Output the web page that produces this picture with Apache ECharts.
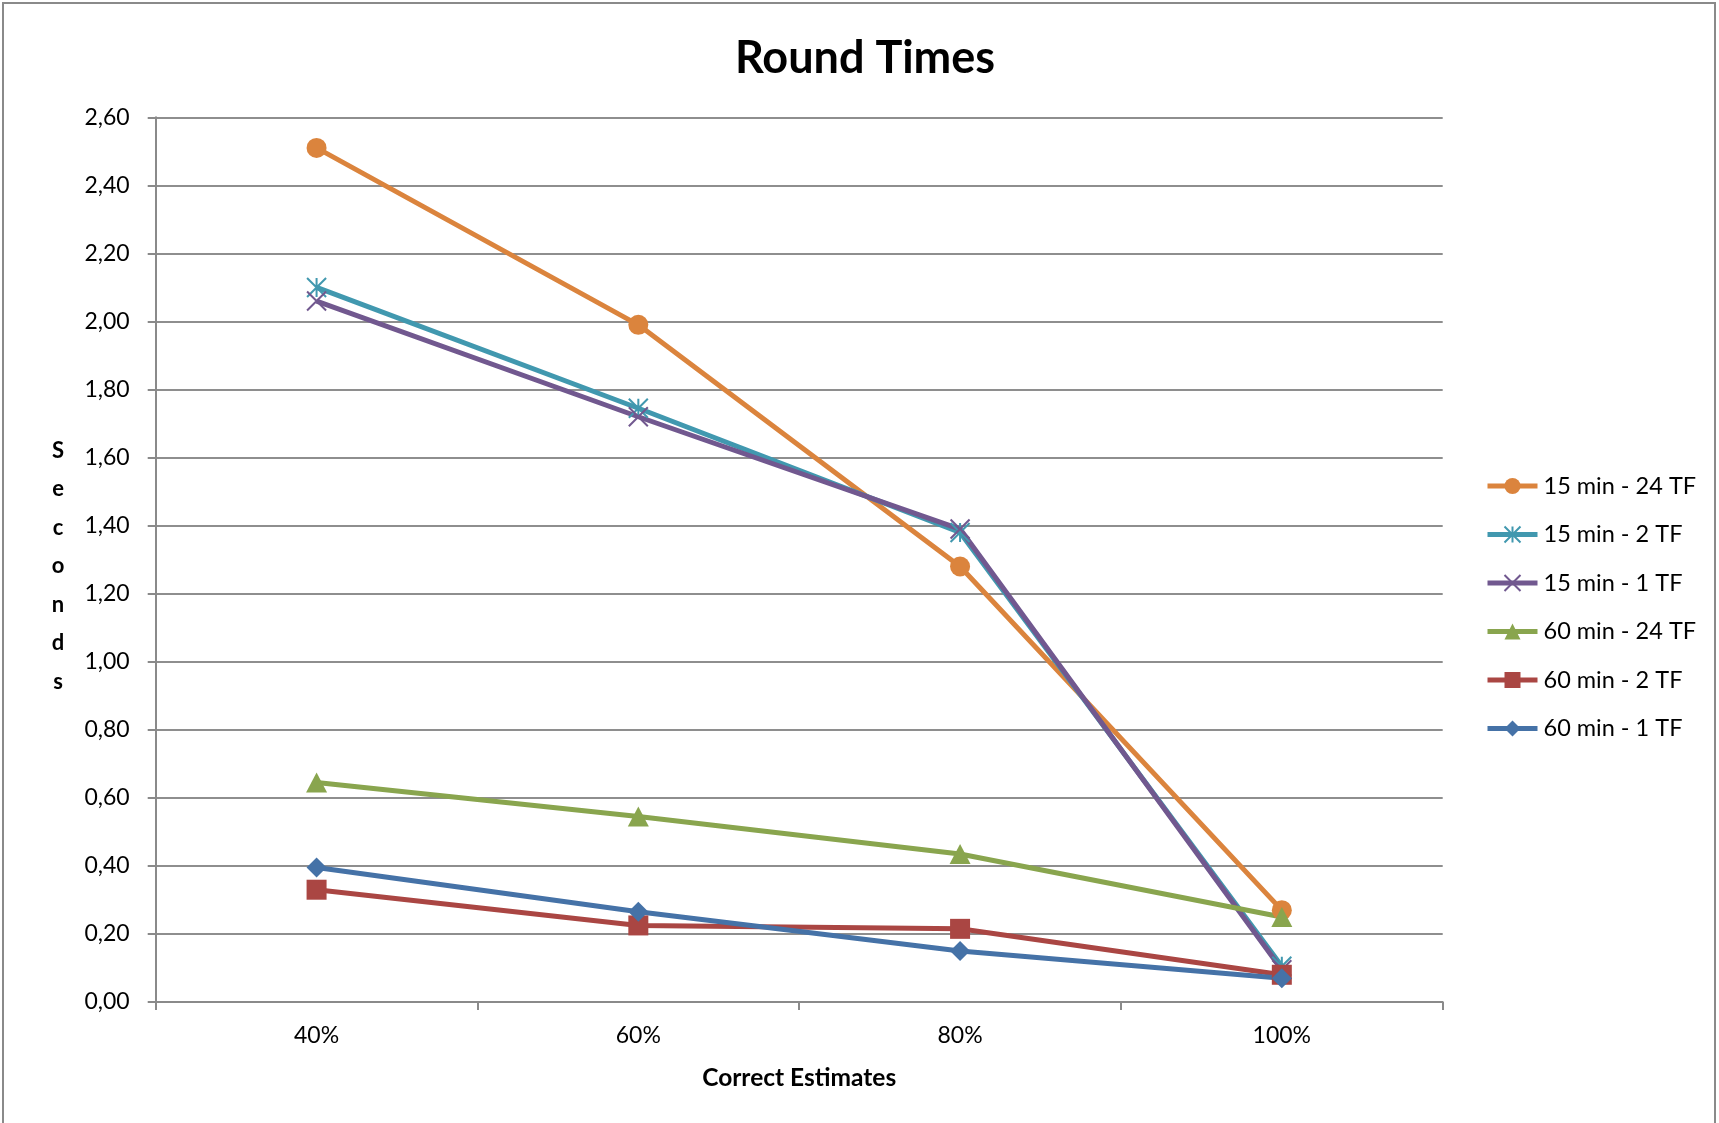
<!DOCTYPE html>
<html>
<head>
<meta charset="utf-8">
<script src="https://cdn.jsdelivr.net/npm/echarts@6/dist/echarts.min.js"></script>
<style>
html,body{margin:0;padding:0;background:#fff;}
#chart{width:1719px;height:1123px;}
</style>
</head>
<body>
<div id="chart"></div>
<script>
var categories = ['40%', '60%', '80%', '100%'];
var seriesNames = ['15 min - 24 TF', '15 min - 2 TF', '15 min - 1 TF', '60 min - 24 TF', '60 min - 2 TF', '60 min - 1 TF'];
var s15min24TF = [2.51, 1.99, 1.28, 0.27];
var s15min2TF = [2.10, 1.745, 1.38, 0.105];
var s15min1TF = [2.06, 1.72, 1.39, 0.095];
var s60min24TF = [0.645, 0.545, 0.435, 0.25];
var s60min2TF = [0.33, 0.225, 0.215, 0.08];
var s60min1TF = [0.395, 0.265, 0.15, 0.07];
var yMin = 0, yMax = 2.6, yInterval = 0.2;

var colors = ['#DB843D', '#4198AF', '#71588F', '#89A54E', '#AA4643', '#4572A7'];
var symbols = [
  'circle',
  'path://M5,0L5,10M0,0L10,10M10,0L0,10',
  'path://M0,0L10,10M10,0L0,10',
  'triangle',
  'rect',
  'diamond'
];
var dataSets = [s15min24TF, s15min2TF, s15min1TF, s60min24TF, s60min2TF, s60min1TF];
var FONT = 'Lato';

var series = dataSets.map(function (d, i) {
  var stroked = (i === 1 || i === 2);
  return {
    name: seriesNames[i],
    type: 'line',
    data: d,
    symbol: symbols[i],
    symbolSize: stroked ? 19 : (i === 3 ? [21, 20] : 20),
    lineStyle: { color: colors[i], width: 5 },
    itemStyle: stroked
      ? { color: colors[i], borderColor: colors[i], borderWidth: 2 }
      : { color: colors[i], borderWidth: 0 },
    emphasis: { disabled: true },
    animation: false
  };
});

var chart = echarts.init(document.getElementById('chart'), null, { renderer: 'canvas' });
chart.setOption({
  backgroundColor: '#ffffff',
  animation: false,
  textStyle: { fontFamily: FONT },
  title: {
    text: 'Round Times',
    left: 860,
    top: 31,
    textAlign: 'center',
    textStyle: { fontFamily: FONT, fontSize: 45, fontWeight: 'bold', color: '#000' }
  },
  graphic: [
    {
      type: 'rect',
      shape: { x: 3, y: 3, width: 1712, height: 1130 },
      style: { fill: 'none', stroke: '#8a8a8a', lineWidth: 2 },
      silent: true
    },
    {
      type: 'text',
      x: 58,
      y: 566,
      style: {
        text: 'S\ne\nc\no\nn\nd\ns',
        fontFamily: FONT,
        fontSize: 22,
        fontWeight: 'bold',
        lineHeight: 38.5,
        fill: '#000',
        align: 'center',
        verticalAlign: 'middle'
      },
      silent: true
    }
  ],
  legend: {
    orient: 'vertical',
    left: 1480,
    top: 469,
    itemWidth: 50,
    itemHeight: 20,
    itemGap: 24.5,
    data: seriesNames,
    lineStyle: { width: 5 },
    textStyle: { fontFamily: FONT, fontSize: 23.5, color: '#000', padding: [0, 0, 0, 1] },
    selectedMode: false
  },
  grid: {
    left: 155.7,
    right: 276.3,
    top: 117.3,
    bottom: 121,
    containLabel: false
  },
  xAxis: {
    type: 'category',
    data: categories,
    boundaryGap: true,
    name: 'Correct Estimates',
    nameLocation: 'middle',
    nameGap: 64,
    nameTextStyle: { fontFamily: FONT, fontSize: 24.5, fontWeight: 'bold', color: '#000' },
    axisLine: { lineStyle: { color: '#8a8a8a', width: 2 } },
    axisTick: { show: true, alignWithLabel: false, length: 8, lineStyle: { color: '#8a8a8a', width: 2 } },
    axisLabel: { fontFamily: FONT, fontSize: 23, color: '#000', margin: 22 },
    splitLine: { show: false }
  },
  yAxis: {
    type: 'value',
    min: yMin,
    max: yMax,
    interval: yInterval,
    axisLine: { show: true, lineStyle: { color: '#8a8a8a', width: 2 } },
    axisTick: { show: true, length: 8, lineStyle: { color: '#8a8a8a', width: 2 } },
    axisLabel: {
      fontFamily: FONT,
      fontSize: 23,
      color: '#000',
      margin: 26,
      formatter: function (v) { return v.toFixed(2).replace('.', ','); }
    },
    splitLine: { show: true, lineStyle: { color: '#8e8e8e', width: 2 } }
  },
  series: series
});
</script>
</body>
</html>
